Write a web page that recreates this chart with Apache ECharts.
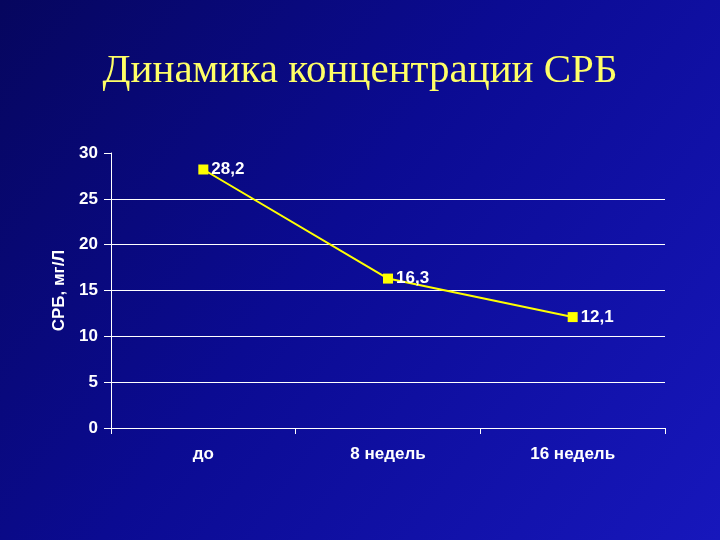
<!DOCTYPE html>
<html>
<head>
<meta charset="utf-8">
<script src="https://cdn.jsdelivr.net/npm/echarts@6/dist/echarts.min.js"></script>
<style>
  html, body { margin: 0; padding: 0; }
  #chart { width: 720px; height: 540px; }
</style>
</head>
<body>
<div id="chart"></div>
<script>
// values
const categories = ["до", "8 недель", "16 недель"];
const crpValues = [28.2, 16.3, 12.1];
const yTicks = [0, 5, 10, 15, 20, 25, 30];

const chart = echarts.init(document.getElementById("chart"));

// no grid line at the top (30), the rest are white
const splitColors = yTicks.map((t, i) => (i === yTicks.length - 1 ? "rgba(0,0,0,0)" : "#ffffff"));

chart.setOption({
  backgroundColor: {
    type: "linear",
    x: 0, y: 0, x2: 1, y2: 1,
    colorStops: [
      { offset: 0, color: "#06065e" },
      { offset: 0.45, color: "#0b0b92" },
      { offset: 1, color: "#1717bc" },
    ],
  },
  title: {
    text: "Динамика концентрации СРБ",
    left: "center",
    top: 46,
    textStyle: {
      color: "#ffff66",
      fontFamily: "Liberation Serif",
      fontWeight: "normal",
      fontSize: 41,
    },
  },
  grid: {
    left: 111,
    right: 55,
    top: 153,
    bottom: 112,
  },
  xAxis: {
    type: "category",
    data: categories,
    axisLine: { lineStyle: { color: "#ffffff", width: 1 } },
    axisTick: { show: true, length: 6, lineStyle: { color: "#ffffff" } },
    axisLabel: {
      color: "#ffffff",
      fontFamily: "Liberation Sans",
      fontWeight: "bold",
      fontSize: 17,
      margin: 18,
    },
  },
  yAxis: {
    type: "value",
    min: 0,
    max: 30,
    interval: 5,
    name: "СРБ, мг/Л",
    nameLocation: "middle",
    nameGap: 42,
    nameRotate: 90,
    nameTextStyle: {
      color: "#ffffff",
      fontFamily: "Liberation Sans",
      fontWeight: "bold",
      fontSize: 17,
    },
    axisLine: { show: true, lineStyle: { color: "#ffffff", width: 1 } },
    axisTick: { show: true, length: 7, lineStyle: { color: "#ffffff" } },
    axisLabel: {
      color: "#ffffff",
      fontFamily: "Liberation Sans",
      fontWeight: "bold",
      fontSize: 17,
      margin: 13,
    },
    splitLine: { show: true, lineStyle: { color: splitColors, width: 1 } },
  },
  series: [
    {
      type: "line",
      data: crpValues,
      symbol: "rect",
      symbolSize: 10,
      lineStyle: { color: "#ffff00", width: 2 },
      itemStyle: { color: "#ffff00" },
      label: {
        show: true,
        position: "right",
        distance: 3,
        color: "#ffffff",
        fontFamily: "Liberation Sans",
        fontWeight: "bold",
        fontSize: 17,
        formatter: (p) => String(p.value).replace(".", ","),
      },
      animation: false,
    },
  ],
});
</script>
</body>
</html>
